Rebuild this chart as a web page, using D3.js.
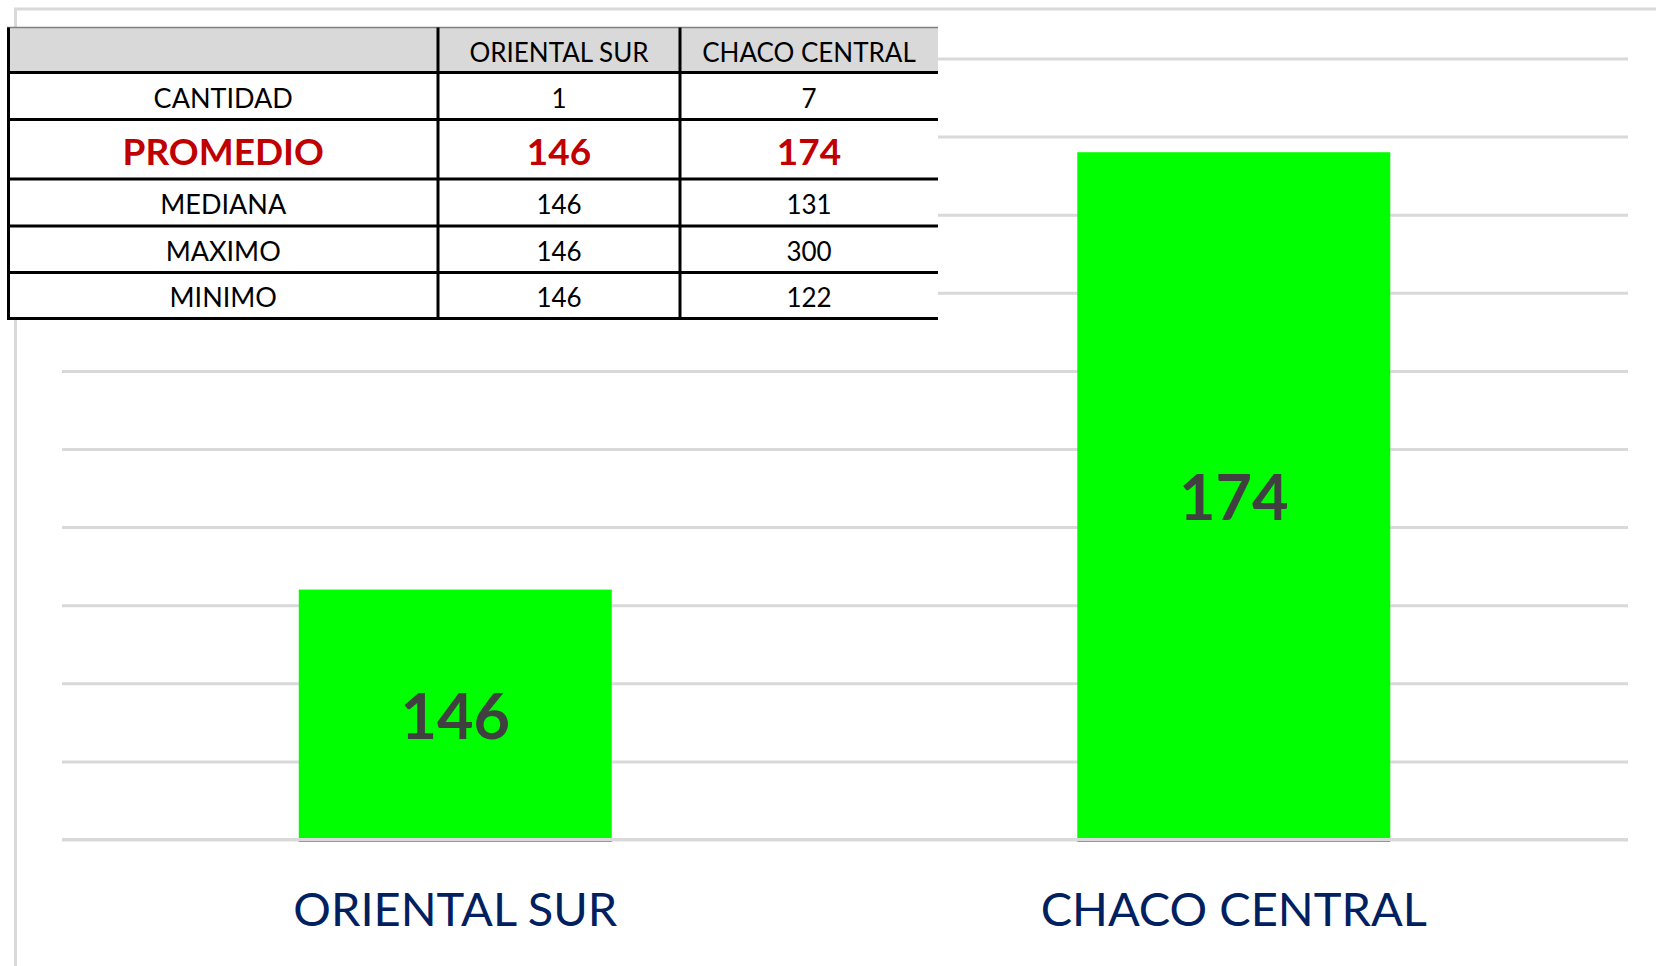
<!DOCTYPE html>
<html>
<head>
<meta charset="utf-8">
<script src="https://cdn.jsdelivr.net/npm/d3@7"></script>
<style>
  body { margin: 0; background: #fff; }
  svg { display: block; font-family: Lato, "Open Sans", sans-serif; }
</style>
</head>
<body>
<div id="chart"></div>
<script>
// Chart data
var categories = ["ORIENTAL SUR", "CHACO CENTRAL"];
var promedio = [146, 174];
var cantidad = [1, 7];
var mediana = [146, 131];
var maximo = [146, 300];
var minimo = [146, 122];
var rowLabels = ["CANTIDAD", "PROMEDIO", "MEDIANA", "MAXIMO", "MINIMO"];
var yTicks = [130, 135, 140, 145, 150, 155, 160, 165, 170, 175, 180];

// Placement
var width = 1656,
  height = 966,
  plotLeft = 62,
  plotRight = 1628,
  plotTop = 58.5,
  plotBottom = 839.5;

var svg = d3.select("#chart")
  .append("svg")
  .attr("width", width)
  .attr("height", height);

// outer chart border (only top and left visible)
svg.append("path")
  .attr("d", "M15.5," + height + "V9H" + width)
  .attr("fill", "none")
  .attr("stroke", "#d9d9d9")
  .attr("stroke-width", 3);

// scales
var x = d3.scaleBand()
  .domain(categories)
  .range([66, 1623])
  .paddingInner(0.598)
  .paddingOuter(0.299);

var y = d3.scaleLinear()
  .domain([yTicks[0], yTicks[yTicks.length - 1]])
  .range([plotBottom, plotTop]);

// gridlines
var grid = svg.append("g")
  .attr("transform", "translate(" + plotLeft + ",0)")
  .call(d3.axisLeft(y).tickValues(yTicks).tickSize(-(plotRight - plotLeft)).tickFormat(""));
grid.select(".domain").remove();
grid.selectAll(".tick line")
  .attr("stroke", "#d9d9d9")
  .attr("stroke-width", 3);

// bars
svg.append("g").selectAll("rect")
  .data(promedio)
  .enter().append("rect")
  .attr("x", function(d, i) { return x(categories[i]); })
  .attr("y", function(d) { return y(d); })
  .attr("width", x.bandwidth())
  .attr("height", function(d) { return y(yTicks[0]) - y(d) + 2.5; })
  .attr("fill", "#00ff00");

// category axis line on top of bars
svg.append("line")
  .attr("x1", plotLeft).attr("x2", plotRight)
  .attr("y1", y(yTicks[0])).attr("y2", y(yTicks[0]))
  .attr("stroke", "#d9d9d9")
  .attr("stroke-width", 3);

// data labels
svg.append("g").selectAll("text")
  .data(promedio)
  .enter().append("text")
  .attr("x", function(d, i) { return x(categories[i]) + x.bandwidth() / 2; })
  .attr("y", function(d) { return (y(d) + y(yTicks[0])) / 2 + 24; })
  .attr("text-anchor", "middle")
  .attr("font-weight", "bold")
  .attr("font-size", 63)
  .attr("fill", "#404040")
  .text(function(d) { return d; });

// category labels
svg.append("g").selectAll("text")
  .data(categories)
  .enter().append("text")
  .attr("x", function(d) { return x(d) + x.bandwidth() / 2; })
  .attr("y", 926)
  .attr("text-anchor", "middle")
  .attr("font-size", 47)
  .attr("fill", "#002060")
  .text(function(d) { return d; });

// Summary table
var colX = [8.5, 438, 680, 938];
var rowY = [27.5, 72.5, 119.5, 179, 226, 272.5, 318.5];
var rowValues = [cantidad, promedio, mediana, maximo, minimo];

var table = svg.append("g");

table.append("rect")
  .attr("x", 7).attr("y", rowY[0])
  .attr("width", colX[3] - 7).attr("height", rowY[6] - rowY[0] + 1.5)
  .attr("fill", "#fff");

table.append("rect")
  .attr("x", 7).attr("y", rowY[0])
  .attr("width", colX[3] - 7).attr("height", rowY[1] - rowY[0])
  .attr("fill", "#d9d9d9");

// header text
table.selectAll(".head")
  .data(categories)
  .enter().append("text")
  .attr("class", "head")
  .attr("x", function(d, i) { return (colX[i + 1] + colX[i + 2]) / 2; })
  .attr("y", 62)
  .attr("text-anchor", "middle")
  .attr("font-size", 26)
  .attr("fill", "#000")
  .text(function(d) { return d; });

// row texts
rowLabels.forEach(function(label, r) {
  var top = rowY[r + 1], bottom = rowY[r + 2];
  var isMain = label === "PROMEDIO";
  var size = isMain ? 37 : 27;
  var base = (top + bottom) / 2 + size * 0.36 + 2;
  var cells = [label].concat(rowValues[r]);
  table.selectAll(".row" + r)
    .data(cells)
    .enter().append("text")
    .attr("class", "row" + r)
    .attr("x", function(d, i) { return (colX[i] + colX[i + 1]) / 2; })
    .attr("y", base)
    .attr("text-anchor", "middle")
    .attr("font-size", function(d, i) { return isMain ? size : (i === 0 ? 27 : 26); })
    .attr("font-weight", isMain ? "bold" : "normal")
    .attr("fill", isMain ? "#c00000" : "#000")
    .text(function(d) { return d; });
});

// table lines
table.append("line")
  .attr("x1", 7).attr("x2", colX[3])
  .attr("y1", rowY[0]).attr("y2", rowY[0])
  .attr("stroke", "#7f7f7f").attr("stroke-width", 1.5);

table.selectAll(".hline")
  .data(rowY.slice(1))
  .enter().append("line")
  .attr("class", "hline")
  .attr("x1", 7).attr("x2", colX[3])
  .attr("y1", function(d) { return d; }).attr("y2", function(d) { return d; })
  .attr("stroke", "#000").attr("stroke-width", 3);

table.selectAll(".vline")
  .data(colX.slice(0, 3))
  .enter().append("line")
  .attr("class", "vline")
  .attr("x1", function(d) { return d; }).attr("x2", function(d) { return d; })
  .attr("y1", rowY[0]).attr("y2", rowY[6] + 1.5)
  .attr("stroke", "#000").attr("stroke-width", 3);
</script>
</body>
</html>
